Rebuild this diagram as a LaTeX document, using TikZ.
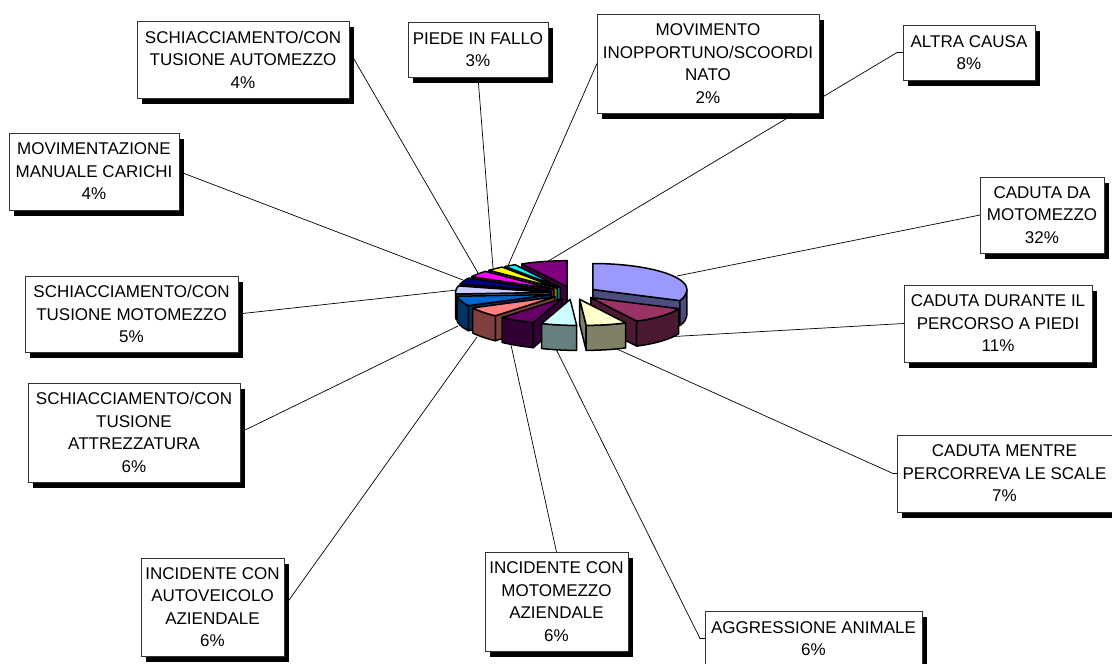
\documentclass[tikz,border=0pt]{standalone}
\usepackage{fontspec}
\setmainfont{Liberation Sans}
\usetikzlibrary{shadows}
\definecolor{c1}{HTML}{9999FF}
\definecolor{c2}{HTML}{993366}
\definecolor{c3}{HTML}{FFFFCC}
\definecolor{c4}{HTML}{CCFFFF}
\definecolor{c5}{HTML}{660066}
\definecolor{c6}{HTML}{FF8080}
\definecolor{c7}{HTML}{0066CC}
\definecolor{c8}{HTML}{CCCCFF}
\definecolor{c9}{HTML}{000080}
\definecolor{c10}{HTML}{FF00FF}
\definecolor{c11}{HTML}{FFFF00}
\definecolor{c12}{HTML}{00FFFF}
\definecolor{c13}{HTML}{800080}
\pgfdeclarelayer{back}
\pgfdeclarelayer{lines}
\pgfsetlayers{back,lines,main}
% pie geometry (px, y downwards)
\def\PScx{573}\def\PScy{293}\def\PSrx{94}\def\PSry{26}
\def\PSe{0.25}\def\PSh{25}\def\PSk{0.25}
\def\PSXe{\PScx+\PSox+\PSrx*cos(\t)+\PSk*max(0,\PSoy-\PSry*sin(\t))}
\def\PSYe{\PScy+\PSoy-\PSry*sin(\t)}
\newcommand\PSpt[3]{%
  \pgfmathsetmacro#3{\PScy+\PSoy-\PSry*sin(#1)}%
  \pgfmathsetmacro#2{\PScx+\PSox+\PSrx*cos(#1)+\PSk*max(0,#3-\PScy)}%
}
\newcommand\PSslice[3]{%
  \pgfmathsetmacro\PSm{((#1)+(#2))/2}%
  \pgfmathsetmacro\PSox{\PSe*\PSrx*cos(\PSm)}%
  \pgfmathsetmacro\PSoy{-\PSe*\PSry*sin(\PSm)}%
  \pgfmathsetmacro\PSay{\PScy+\PSoy}%
  \pgfmathsetmacro\PSax{\PScx+\PSox+\PSk*max(0,\PSoy)}%
  \pgfmathtruncatemacro\PSns{abs((#1)-(#2))/3+3}%
  \pgfmathtruncatemacro\PSf{cos(#1)<(-0.01)}%
  \ifnum\PSf=1
    \PSpt{#1}\PSqx\PSqy
    \filldraw[pieedge,fill=#3!50!black] (\PSax,\PSay) -- (\PSqx,\PSqy) -- (\PSqx,\PSqy+\PSh) -- (\PSax,\PSay+\PSh) -- cycle;
  \fi
  \pgfmathtruncatemacro\PSf{cos(#2)>(-0.01)}%
  \ifnum\PSf=1
    \PSpt{#2}\PSqx\PSqy
    \filldraw[pieedge,fill=#3!50!black] (\PSax,\PSay) -- (\PSqx,\PSqy) -- (\PSqx,\PSqy+\PSh) -- (\PSax,\PSay+\PSh) -- cycle;
  \fi
  \pgfmathsetmacro\PSlo{max(#2,-180)}%
  \pgfmathsetmacro\PShi{min(#1,0)}%
  \pgfmathtruncatemacro\PSf{\PShi-\PSlo>0.01}%
  \ifnum\PSf=1
    \filldraw[pieedge,fill=#3!50!black] plot[domain=\PShi:\PSlo,samples=\PSns,variable=\t] ({\PSXe},{\PSYe}) -- plot[domain=\PSlo:\PShi,samples=\PSns,variable=\t] ({\PSXe},{\PSYe+\PSh}) -- cycle;
  \fi
  \filldraw[pieedge,fill=#3] (\PSax,\PSay) -- plot[domain=#1:#2,samples=\PSns,variable=\t] ({\PSXe},{\PSYe}) -- cycle;
}
\begin{document}
\begin{tikzpicture}[x=1pt,y=-1pt,
  lbl/.style={draw=black!80, line width=0.8pt, fill=white, anchor=north west,
    inner sep=0pt, outer sep=0pt, align=center,
    font=\fontsize{17}{22.5}\selectfont,
    general shadow={fill=black, shadow xshift=5pt, shadow yshift=-5.5pt}},
  leader/.style={draw=black, line width=0.7pt},
  pieedge/.style={draw=black, line width=1.5pt, line join=round}]
\useasboundingbox (0,0) rectangle (1112,664);
\begin{pgfonlayer}{back}
  \fill[white] (0,0) rectangle (1112,664);
\end{pgfonlayer}

% label boxes
\node[lbl, minimum width=124pt, minimum height=76pt] (b1) at (980,177) {CADUTA DA\\MOTOMEZZO\\32\%};
\node[lbl, minimum width=188pt, minimum height=77pt] (b2) at (904,285) {CADUTA DURANTE IL\\PERCORSO A PIEDI\\11\%};
\node[lbl, minimum width=215pt, minimum height=77pt] (b3) at (897,435) {CADUTA MENTRE\\PERCORREVA LE SCALE\\7\%};
\node[lbl, minimum width=217pt, minimum height=55pt] (b4) at (705,611) {AGGRESSIONE ANIMALE\\6\%};
\node[lbl, minimum width=143pt, minimum height=99pt] (b5) at (485,552) {INCIDENTE CON\\MOTOMEZZO\\AZIENDALE\\6\%};
\node[lbl, minimum width=143pt, minimum height=98pt] (b6) at (141,558) {INCIDENTE CON\\AUTOVEICOLO\\AZIENDALE\\6\%};
\node[lbl, minimum width=212pt, minimum height=99pt] (b7) at (28,383) {SCHIACCIAMENTO/CON\\TUSIONE\\ATTREZZATURA\\6\%};
\node[lbl, minimum width=213pt, minimum height=76pt] (b8) at (25,276) {SCHIACCIAMENTO/CON\\TUSIONE MOTOMEZZO\\5\%};
\node[lbl, minimum width=170pt, minimum height=77pt] (b9) at (9,133) {MOVIMENTAZIONE\\MANUALE CARICHI\\4\%};
\node[lbl, minimum width=212pt, minimum height=77pt] (b10) at (137,21) {SCHIACCIAMENTO/CON\\TUSIONE AUTOMEZZO\\4\%};
\node[lbl, minimum width=140pt, minimum height=55pt] (b11) at (408,22) {PIEDE IN FALLO\\3\%};
\node[lbl, minimum width=222pt, minimum height=99pt] (b12) at (597,14) {MOVIMENTO\\INOPPORTUNO/SCOORDI\\NATO\\2\%};
\node[lbl, minimum width=132pt, minimum height=55pt] (b13) at (903,25) {ALTRA CAUSA\\8\%};

% leader end points on the pie
\coordinate (p1) at (677,276);
\coordinate (p2) at (665,337);
\coordinate (p3) at (608,345);
\coordinate (p4) at (555,347);
\coordinate (p5) at (511,345);
\coordinate (p6) at (477,337);
\coordinate (p7) at (458,326);
\coordinate (p8) at (457,290);
\coordinate (p9) at (463,280);
\coordinate (p10) at (478,273);
\coordinate (p11) at (493,268);
\coordinate (p12) at (507,268);
\coordinate (p13) at (545,263);

\begin{pgfonlayer}{lines}
  \draw[leader] (p1) -- (b1.west);
  \draw[leader] (p2) -- (b2.west);
  \draw[leader] (p3) -- ([xshift=-4pt]b3.west) -- (b3.west);
  \draw[leader] (p4) -- ([xshift=-5pt]b4.west) -- (b4.west);
  \draw[leader] (p5) -- (b5.north);
  \draw[leader] (p6) -- (b6.east);
  \draw[leader] (p7) -- (b7.east);
  \draw[leader] (p8) -- (b8.east);
  \draw[leader] (p9) -- (b9.east);
  \draw[leader] (p10) -- ([yshift=9pt]b10.east);
  \draw[leader] (p11) -- (b11.south);
  \draw[leader] (p12) -- (b12.west);
  \draw[leader] (p13) -- ([xshift=-6pt]b13.west) -- (b13.west);
\end{pgfonlayer}

% exploded 3D pie, back to front
\PSslice{-241.2}{-270}{c13}
\PSslice{-234}{-241.2}{c12}
\PSslice{-223.2}{-234}{c11}
\PSslice{-208.8}{-223.2}{c10}
\PSslice{90}{-25.2}{c1}
\PSslice{-194.4}{-208.8}{c9}
\PSslice{-176.4}{-194.4}{c8}
\PSslice{-154.8}{-176.4}{c7}
\PSslice{-133.2}{-154.8}{c6}
\PSslice{-25.2}{-64.8}{c2}
\PSslice{-111.6}{-133.2}{c5}
\PSslice{-64.8}{-90}{c3}
\PSslice{-90}{-111.6}{c4}
\end{tikzpicture}
\end{document}
